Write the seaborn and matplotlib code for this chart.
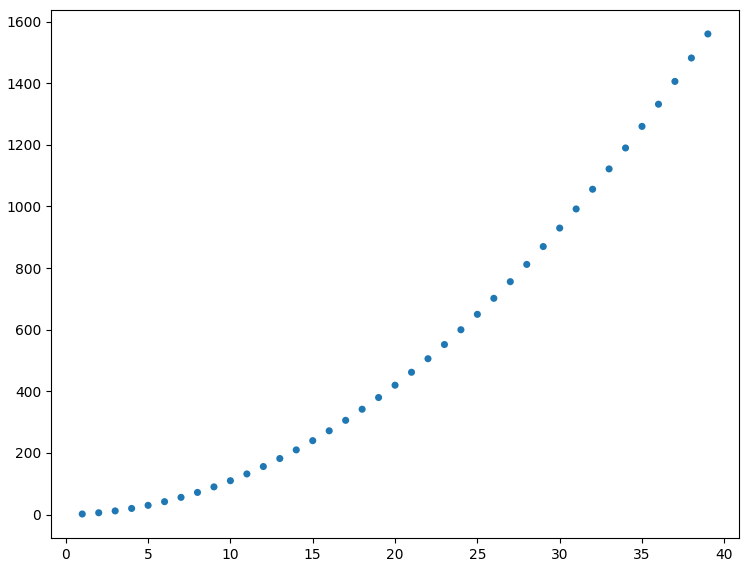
import matplotlib
matplotlib.use("Agg")
import matplotlib.pyplot as plt
import seaborn as sns
import pandas as pd

# values
x_vals = list(range(1, 40))
y_vals = [2, 6, 12, 20, 30, 42, 56, 72, 90, 110,
          132, 156, 182, 210, 240, 272, 306, 342, 380, 420,
          462, 506, 552, 600, 650, 702, 756, 812, 870, 930,
          992, 1056, 1122, 1190, 1260, 1332, 1406, 1482, 1560]
x_ticks = [0, 5, 10, 15, 20, 25, 30, 35, 40]
y_ticks = [0, 200, 400, 600, 800, 1000, 1200, 1400, 1600]

df = pd.DataFrame({"x": x_vals, "y": y_vals})

fig = plt.figure(figsize=(7.55, 5.69), dpi=100)
ax = fig.add_axes([0.0675, 0.0545, 0.9115, 0.928])
sns.scatterplot(data=df, x="x", y="y", ax=ax, color="#1f77b4",
                s=26, edgecolor="none")
ax.set_xticks(x_ticks)
ax.set_yticks(y_ticks)
ax.set_xlim(-0.9, 40.9)
ax.set_ylim(-75.9, 1637.9)
ax.set_xlabel("")
ax.set_ylabel("")
ax.tick_params(labelsize=10)

fig.savefig("out.png", dpi=100)
